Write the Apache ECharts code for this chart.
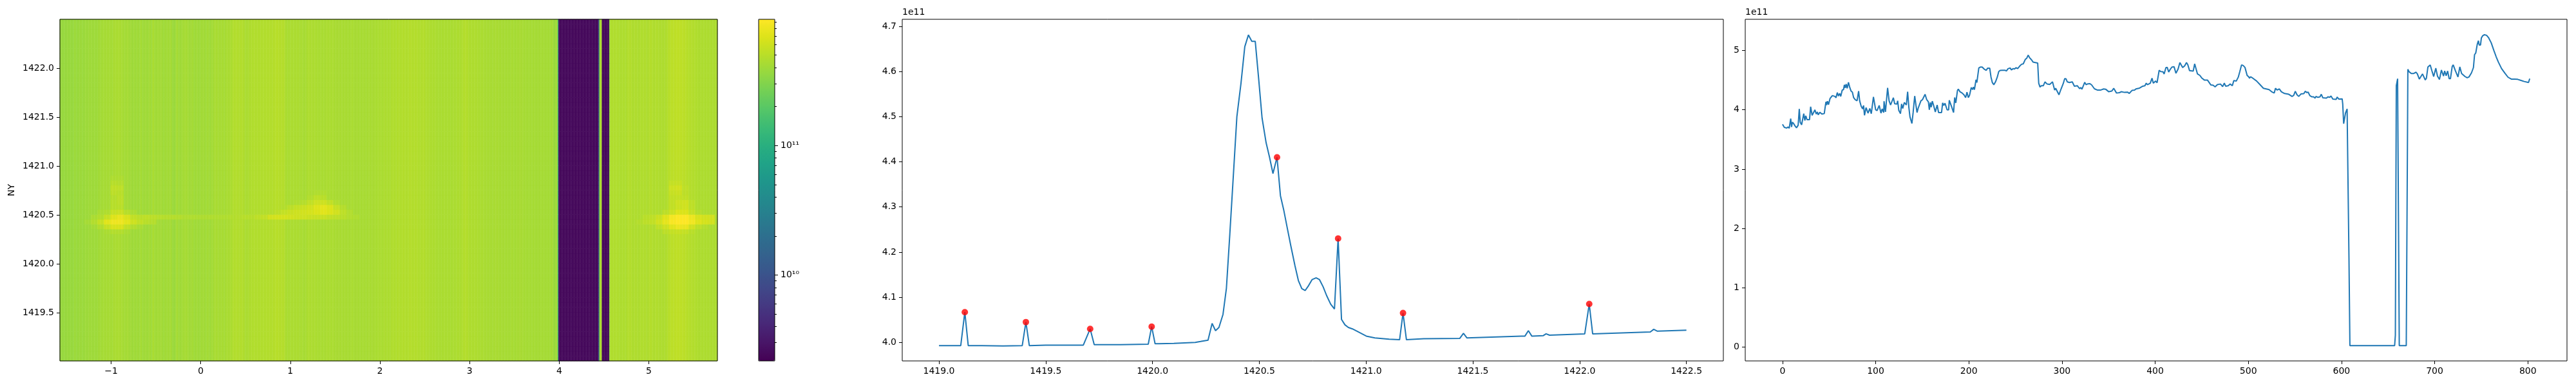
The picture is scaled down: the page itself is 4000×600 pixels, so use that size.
<!DOCTYPE html>
<html>
<head>
<meta charset="utf-8">
<style>html,body{margin:0;padding:0;background:#fff}#c{width:4000px;height:600px}</style>
<script src="https://cdn.jsdelivr.net/npm/echarts@6/dist/echarts.min.js"></script>
</head>
<body>
<div id="c"></div>
<script>
// Right panel: row slice, index and value (units of 1e11)
const sliceIdx = [0,1,2,3.3,4.6,6,7.2,8.8,9.7,10.6,12,13.4,15,16.8,18,19,20.5,22.8,24,25,26.3,29,30.2,31.8,33,34.8,36.2,37.4,38.3,40.1,42.2,44.8,46.6,47.3,48.2,49.4,51,53.5,56.3,57.4,58.8,60,61.4,62.5,64.1,65.5,66.4,67.4,68.3,69.4,70.8,72.2,73.6,75,76.3,78,80,81.7,82.8,84.4,86,87,88,89.7,91.8,93.7,95.3,97.6,100,101.5,103.8,105.7,107,108.6,109,110.5,112.8,114.4,116,117,119,120.4,122.7,123.6,124.8,126.6,127.8,129,130.8,132.9,134.3,135.6,136.8,138.9,140.2,141.9,143.2,144.4,145.6,146.7,148.6,150.2,151.3,153,154.8,156.6,157.6,158.7,159.6,160.8,162.4,164,166,167.5,170.7,171.9,173,174.4,176.7,178.3,179,181.5,183.6,184.8,186,187.8,188.7,190.5,192.8,194.7,196.6,198,199.4,200.7,202.6,204,204.9,206,207.7,208.6,210.7,212.5,214.3,216.4,218.7,220.1,222.4,223.8,225.2,226.8,228.6,230.5,232.1,233.5,235.6,236.7,239,240.4,242,244.3,245.7,247.6,249,250.6,252.4,254.7,256.6,258.4,260.5,262.1,263.7,265.3,267.4,269,271.3,273.9,275,276.4,277.8,278.7,279.9,281.7,284,286.8,289.8,292.1,293.2,296.7,299,301.3,302.9,304.3,305.7,306.9,308,309.2,311,313.3,316.5,319,320,321.4,324.4,325.8,327.2,328.3,329.9,331.8,334.8,337.8,341.7,344.7,346.8,350.2,353.4,355.5,358.5,361.7,363.6,367,370.5,372.1,375.1,377.9,379.3,383.2,386.7,389,390.4,391.7,394.7,396.6,398,399,400.4,402,404.3,406,408.3,409.6,411.5,412.9,414.5,416.1,418,420.3,422.3,424.6,426.5,427.6,429.5,431.6,433.6,435,436.9,440.8,442.4,445.4,448,450.2,451.4,453,456.2,457.4,459.7,462.2,464.3,466.8,470.1,472.4,474.2,475.6,478.4,480.5,482.8,484.4,487.1,489.2,490.8,492.7,494.5,496.4,498.7,500.3,501.2,502.4,503.8,504.9,508.8,512.5,516.2,519.2,520.4,522.2,525,527.8,529.1,531,533.3,535.4,538.8,543.4,546.9,548.7,550.4,552.2,554.1,556.6,559.6,561,562.8,564.2,566,568.3,570,571.6,572.7,574.6,576.9,578.3,579.9,583.8,585.4,587.3,588.7,590.7,594.2,595.3,597,600.7,601.3,602.3,603.4,604.3,606,607,608,609,657,657.8,658.8,660.2,662,669.5,670.8,671.2,672.6,674.9,677.2,680,681.4,683.5,684.6,686.9,687.8,689.9,691.1,692.7,695.2,697,698.9,701.2,703,705.1,707.2,709.5,710.7,712.3,713.9,715.5,716.9,718.8,719.9,722.2,725,727,728.9,732.6,734.9,736.8,739.5,741.6,742.8,744.1,745.7,746.9,747.8,749.2,750.1,751.5,753.4,755.7,758,760.7,763.5,766,768.4,771.8,775.3,778.7,782.2,785.7,789.1,792.6,796,800.7,802];
const sliceVal = [3.756,3.756,3.705,3.72,3.694,3.712,3.69,3.853,3.712,3.792,3.767,3.73,3.698,3.741,4.016,3.792,3.748,3.936,3.821,3.9,3.835,3.835,4.052,3.908,3.893,4,3.929,3.965,3.915,3.958,3.929,3.936,4.135,4.081,4.146,4.088,4.19,4.24,4.226,4.204,4.291,4.233,4.276,4.226,4.334,4.341,4.421,4.37,4.435,4.363,4.464,4.377,4.316,4.298,4.208,4.171,4.153,4.316,4.153,4.063,4.016,4.074,3.908,4.038,3.944,4.023,3.936,4.218,4,3.987,4.074,3.944,4.016,3.955,4.146,3.965,4.37,4.153,4.081,4.074,4.204,4.103,4.096,4.153,3.991,3.936,4.099,4.023,4.124,4.081,4.305,4.045,3.882,3.77,3.955,4.233,4.081,3.955,4.027,4.016,4.153,4.171,4.19,4.262,4.171,4.135,4,4.124,4.045,4.146,4.063,3.965,4.081,3.955,3.955,4.117,4.074,4.11,4,4,4.161,4.052,3.955,4.208,4.117,4.327,4.349,4.305,4.283,4.255,4.207,4.298,4.207,4.243,4.377,4.341,4.384,4.341,4.507,4.46,4.706,4.721,4.721,4.688,4.666,4.703,4.703,4.551,4.46,4.424,4.471,4.551,4.645,4.663,4.666,4.684,4.666,4.656,4.692,4.706,4.674,4.695,4.688,4.71,4.695,4.739,4.768,4.775,4.847,4.869,4.923,4.876,4.84,4.804,4.797,4.789,4.449,4.384,4.406,4.424,4.406,4.471,4.435,4.428,4.471,4.334,4.363,4.254,4.352,4.442,4.525,4.522,4.471,4.486,4.46,4.471,4.471,4.399,4.406,4.355,4.377,4.348,4.464,4.424,4.435,4.428,4.442,4.42,4.355,4.334,4.334,4.352,4.348,4.305,4.316,4.363,4.283,4.29,4.305,4.294,4.298,4.276,4.327,4.334,4.352,4.366,4.399,4.406,4.449,4.424,4.449,4.533,4.45,4.457,4.486,4.457,4.667,4.645,4.641,4.605,4.71,4.717,4.638,4.681,4.721,4.725,4.616,4.689,4.797,4.797,4.714,4.739,4.797,4.761,4.66,4.652,4.775,4.605,4.58,4.533,4.544,4.5,4.5,4.508,4.421,4.414,4.388,4.425,4.435,4.392,4.45,4.399,4.407,4.435,4.407,4.493,4.486,4.551,4.642,4.757,4.746,4.714,4.58,4.558,4.533,4.558,4.544,4.562,4.486,4.425,4.363,4.352,4.334,4.341,4.305,4.284,4.363,4.334,4.352,4.305,4.276,4.262,4.226,4.244,4.313,4.255,4.226,4.269,4.273,4.313,4.291,4.298,4.24,4.219,4.219,4.197,4.226,4.211,4.219,4.262,4.204,4.197,4.219,4.211,4.233,4.182,4.175,4.215,4.182,4.185,4.099,3.766,3.766,3.947,4.015,4.02,1.5,0.025,0.025,0.2,4.406,4.525,0.025,0.025,3.5,4.684,4.641,4.612,4.612,4.634,4.605,4.518,4.525,4.605,4.598,4.504,4.532,4.72,4.757,4.659,4.561,4.702,4.569,4.511,4.67,4.569,4.655,4.576,4.655,4.525,4.525,4.731,4.757,4.659,4.554,4.724,4.612,4.561,4.54,4.554,4.623,4.713,4.93,4.959,5.104,5.165,5.093,5.093,5.212,5.248,5.266,5.256,5.212,5.129,5.002,4.894,4.804,4.695,4.619,4.55,4.518,4.518,4.514,4.496,4.478,4.46,4.525];

// Middle panel: column slice, frequency and value (units of 1e11)
const specX = [1419,1419.102,1419.121,1419.137,1419.2,1419.3,1419.39,1419.407,1419.423,1419.5,1419.676,1419.708,1419.727,1419.85,1419.98,1419.996,1420.012,1420.03,1420.1,1420.15,1420.2,1420.225,1420.26,1420.279,1420.295,1420.311,1420.33,1420.346,1420.362,1420.376,1420.395,1420.414,1420.432,1420.449,1420.465,1420.481,1420.497,1420.513,1420.532,1420.548,1420.564,1420.583,1420.599,1420.615,1420.632,1420.648,1420.667,1420.683,1420.699,1420.715,1420.731,1420.747,1420.766,1420.782,1420.799,1420.815,1420.834,1420.852,1420.869,1420.885,1420.901,1420.917,1420.936,1420.952,1421.001,1421.041,1421.108,1421.157,1421.173,1421.189,1421.27,1421.439,1421.456,1421.472,1421.727,1421.744,1421.76,1421.776,1421.83,1421.843,1421.859,1422.024,1422.045,1422.061,1422.331,1422.347,1422.363,1422.5];
const specY = [3.993,3.993,4.067,3.993,3.993,3.992,3.993,4.045,3.993,3.994,3.994,4.03,3.995,3.995,3.996,4.035,3.997,3.997,3.998,3.999,4,4.002,4.005,4.042,4.026,4.033,4.062,4.12,4.24,4.35,4.5,4.573,4.655,4.681,4.667,4.667,4.584,4.497,4.442,4.41,4.374,4.41,4.325,4.292,4.251,4.213,4.17,4.137,4.119,4.115,4.126,4.139,4.143,4.139,4.123,4.104,4.085,4.074,4.23,4.051,4.039,4.033,4.03,4.026,4.014,4.01,4.007,4.006,4.065,4.006,4.008,4.009,4.02,4.01,4.014,4.014,4.026,4.014,4.015,4.019,4.016,4.019,4.085,4.019,4.023,4.029,4.025,4.027];
const peakX = [1419.121,1419.407,1419.708,1419.996,1420.583,1420.869,1421.173,1422.045];
const peakY = [4.067,4.045,4.03,4.035,4.41,4.23,4.065,4.085];

// Image hot spots: [row, centre column of first cell, cell values in 1e11; each cell spans 8 columns]
const hotLeft = [
 [37,66,[4.5,4.5]],[36,66,[4.9,4.8]],[35,66,[5.3,5.2]],[34,66,[5.1,5.0]],[33,66,[4.8,5.1]],[32,66,[4.9,5.1]],[31,66,[4.9,5.0]],
 [30,50,[4.4,4.6,5.6,5.8,4.9,4.4]],
 [29,42,[4.4,4.7,5.6,7.0,7.6,6.6,5.4,5.1,5.2,5.1,4.9,4.8,4.8,4.7,4.6,4.6,4.5,4.5,4.6,4.6,4.6,4.7,4.8,4.9]],
 [28,34,[4.2,4.7,5.6,7.2,8.2,8.2,7.2,6.0,5.4,5.0,4.8]],
 [27,42,[4.2,4.7,5.6,6.6,6.6,5.4,4.7,4.4]],[26,58,[4.4,4.7,4.7,4.4]]
];
const hotMid = [
 [34,314,[4.6,4.6]],[33,306,[4.7,5.2,5.0]],
 [32,290,[4.6,4.8,5.4,6.0,6.0,5.4,4.7]],
 [31,274,[4.7,5.1,5.5,5.8,6.2,7.0,7.4,6.8,5.6,4.8]],
 [30,258,[4.8,5.1,5.5,5.8,6.0,6.2,6.4,6.8,7.2,6.8,6.2,5.2,4.7]],
 [29,234,[4.9,5.2,5.4,6.2,6.4,6.4,6.2,6.0,6.0,5.8,5.7,5.7,5.4,5.2,5.0,4.7,4.6]]
];
const hotRight = [
 [36,748,[5.5,5.6]],[35,748,[6.0,6.2,5.2]],[34,748,[5.6,5.8,5.1]],[33,748,[5.4,5.5,5.3]],
 [32,748,[5.4,6.0,6.1,5.2]],[31,748,[5.4,5.9,6.1,5.2]],[30,740,[5.1,5.9,6.8,6.8,5.6,4.8]],
 [29,716,[5.0,5.2,5.8,7.0,8.6,9.3,9.3,8.0,6.6,6.2,6.2]],
 [28,708,[4.8,5.1,5.4,6.2,7.5,9.0,9.4,9.4,8.4,7.0,6.4,6.2]],
 [27,732,[5.3,6.0,7.2,8.0,7.8,6.2,5.2,4.8]],[26,740,[5.1,5.5,5.7,5.5,5.0]]
];

const heatColumnCount = 803;
const heatRowCount = 70;
const heatXTicks = [-1,0,1,2,3,4,5];
const heatYTicks = [1419.5,1420,1420.5,1421,1421.5,1422];
const specXTicks = [1419,1419.5,1420,1420.5,1421,1421.5,1422,1422.5];
const specYTicks = [4,4.1,4.2,4.3,4.4,4.5,4.6,4.7];
const sliceXTicks = [0,100,200,300,400,500,600,700,800];
const sliceYTicks = [0,1,2,3,4,5];
const barMajorTicks = [1e10,1e11];
const barMinorTicks = [3e9,4e9,5e9,6e9,7e9,8e9,9e9,2e10,3e10,4e10,5e10,6e10,7e10,8e10,9e10,2e11,3e11,4e11,5e11,6e11,7e11,8e11,9e11];
const barMin = 2.17e9, barMax = 9.44e11;
const viridis = ['#440154','#481567','#482677','#453781','#404788','#39568C','#33638D','#2D708E','#287D8E','#238A8D','#1F968B','#20A387','#29AF7F','#3CBB75','#55C667','#73D055','#95D840','#B8DE29','#DCE319','#FDE725'];

// Image cells: each column takes the last reading of the slice at or before it, hot spots override
const baseCol = [];
for (let c = 0, k = 0; c < heatColumnCount; c++) {
  while (k + 1 < sliceIdx.length && sliceIdx[k + 1] <= c) k++;
  baseCol.push(sliceVal[k]);
}
const overrides = {};
[hotLeft, hotMid, hotRight].forEach(list => list.forEach(([r, start, vals]) => {
  vals.forEach((v, j) => {
    for (let c = start - 4 + 8 * j; c < start + 4 + 8 * j; c++) overrides[r * 1000 + c] = v;
  });
}));
const heatCells = [];
for (let r = 0; r < heatRowCount; r++) {
  for (let c = 0; c < heatColumnCount; c++) {
    const over = overrides[r * 1000 + c];
    const dark = baseCol[c] < 0.1;
    heatCells.push([c, r, Math.log10((over !== undefined && !dark ? over : baseCol[c]) * 1e11)]);
  }
}
const seq = n => Array.from({length: n}, (_, i) => i);
const FONT = 'DejaVu Sans';
const lab = (customValues, formatter, extra) => Object.assign({show: true, customValues, formatter, color: '#000', fontFamily: FONT, fontSize: 14, margin: 9}, extra || {});
const tick = (customValues, length) => ({show: true, customValues, length: length || 5, lineStyle: {color: '#000', width: 1}, inside: false});
const fixed1 = v => Number(v).toFixed(1);
const gridBox = (left, width, extra) => Object.assign({left, top: 30, width, height: 531, show: true, borderColor: '#000', borderWidth: 1, backgroundColor: 'transparent'}, extra || {});

const valueAxis = (gridIndex, min, max, ticks, fmt, extra) => Object.assign({
  type: 'value', gridIndex, min, max, scale: true,
  axisLine: {show: false, onZero: false}, splitLine: {show: false},
  axisTick: tick(ticks), axisLabel: lab(ticks, fmt)
}, extra || {});

const option = {
  animation: false,
  backgroundColor: '#fff',
  grid: [
    {left: 93, top: 30, width: 1021, height: 531, show: false},
    gridBox(93, 1021, {z: 10}),
    gridBox(1178, 25, {z: 10}),
    gridBox(1401, 1275),
    gridBox(2710, 1276)
  ],
  xAxis: [
    {type: 'category', gridIndex: 0, data: seq(heatColumnCount), show: false},
    valueAxis(1, -1.571, 5.765, heatXTicks, v => String(v).replace('-', '\u2212')),
    {type: 'value', gridIndex: 2, min: 0, max: 1, show: false},
    valueAxis(3, 1418.828, 1422.673, specXTicks, fixed1),
    valueAxis(4, -40, 842, sliceXTicks, v => String(v))
  ],
  yAxis: [
    {type: 'category', gridIndex: 0, data: seq(heatRowCount), show: false},
    valueAxis(1, 1419.01, 1422.5, heatYTicks, fixed1, {
      name: 'NY', nameLocation: 'middle', nameGap: 68,
      nameTextStyle: {color: '#000', fontFamily: FONT, fontSize: 14}
    }),
    {
      type: 'value', gridIndex: 2, position: 'right',
      min: Math.log10(barMin), max: Math.log10(barMax), scale: true,
      axisLine: {show: false, onZero: false}, splitLine: {show: false},
      axisTick: tick(barMajorTicks.map(Math.log10), 5),
      axisLabel: lab(barMajorTicks.map(Math.log10), v => Math.round(v) === 10 ? '10\u00B9\u2070' : '10\u00B9\u00B9')
    },
    {
      type: 'value', gridIndex: 2, position: 'right',
      min: Math.log10(barMin), max: Math.log10(barMax), scale: true,
      axisLine: {show: false, onZero: false}, splitLine: {show: false},
      axisTick: tick(barMinorTicks.map(Math.log10), 3),
      axisLabel: {show: false}
    },
    valueAxis(3, 3.959, 4.7157, specYTicks, fixed1),
    valueAxis(4, -0.232, 5.526, sliceYTicks, v => String(v))
  ],
  visualMap: {
    type: 'continuous', seriesIndex: 0, dimension: 2,
    min: Math.log10(barMin), max: Math.log10(barMax),
    inRange: {color: viridis},
    left: 1178, top: 30, itemWidth: 25, itemHeight: 531, padding: 0,
    calculable: false, hoverLink: false, text: null, borderWidth: 0
  },
  graphic: [
    {type: 'text', left: 1401, top: 12, silent: true, style: {text: '1e11', fill: '#000', font: '14px "DejaVu Sans"'}},
    {type: 'text', left: 2710, top: 12, silent: true, style: {text: '1e11', fill: '#000', font: '14px "DejaVu Sans"'}}
  ],
  series: [
    {type: 'heatmap', xAxisIndex: 0, yAxisIndex: 0, data: heatCells, progressive: 0, silent: true, itemStyle: {borderWidth: 0}},
    {
      type: 'line', xAxisIndex: 3, yAxisIndex: 4, data: specX.map((x, i) => [x, specY[i]]),
      showSymbol: false, symbol: 'none', silent: true, lineStyle: {color: '#1f77b4', width: 2}
    },
    {
      type: 'scatter', xAxisIndex: 3, yAxisIndex: 4, data: peakX.map((x, i) => [x, peakY[i]]),
      symbol: 'circle', symbolSize: 10, silent: true, itemStyle: {color: '#ff0000'}, z: 5
    },
    {
      type: 'line', xAxisIndex: 4, yAxisIndex: 5, data: sliceIdx.map((x, i) => [x, sliceVal[i]]),
      showSymbol: false, symbol: 'none', silent: true, lineStyle: {color: '#1f77b4', width: 2}
    }
  ]
};
const chart = echarts.init(document.getElementById('c'), null, {renderer: 'canvas', width: 4000, height: 600});
chart.setOption(option);
</script>
</body>
</html>
